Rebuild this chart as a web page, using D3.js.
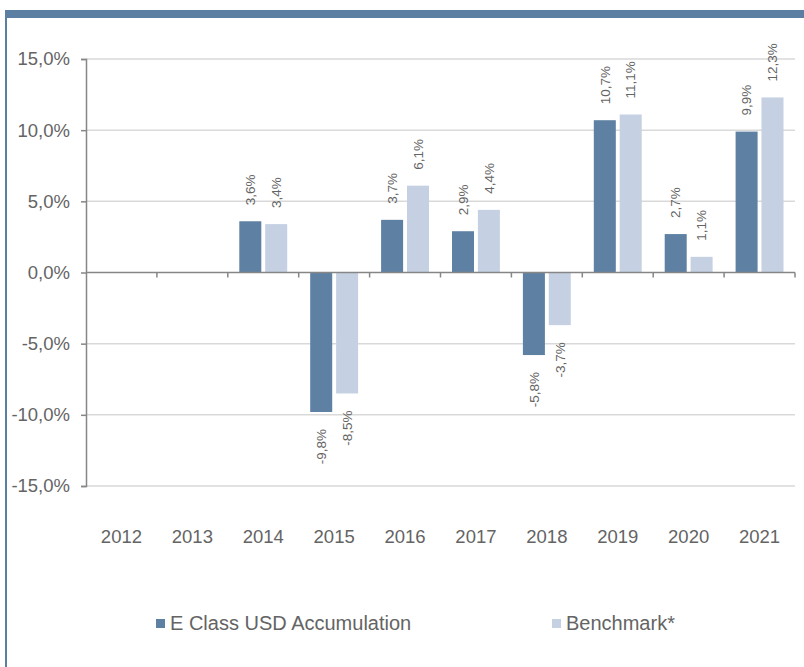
<!DOCTYPE html>
<html>
<head>
<meta charset="utf-8">
<script src="https://cdn.jsdelivr.net/npm/d3@7"></script>
<style>
  body { margin: 0; background: #fff; }
  text { font-family: "Liberation Sans", Arial, sans-serif; fill: #646464; }
</style>
</head>
<body>
<div id="chart"></div>
<script>
// data
var years = ["2012", "2013", "2014", "2015", "2016", "2017", "2018", "2019", "2020", "2021"];
var seriesNames = ["E Class USD Accumulation", "Benchmark*"];
var fund = [null, null, 3.6, -9.8, 3.7, 2.9, -5.8, 10.7, 2.7, 9.9];
var bench = [null, null, 3.4, -8.5, 6.1, 4.4, -3.7, 11.1, 1.1, 12.3];
var yTicks = [-15, -10, -5, 0, 5, 10, 15];

var colors = ["#5e81a3", "#c5d1e3"];
var W = 804, H = 667;

var svg = d3.select("#chart").append("svg")
    .attr("width", W)
    .attr("height", H);

// frame: top band + left line
svg.append("rect")
    .attr("x", 5).attr("y", 10)
    .attr("width", W - 5).attr("height", 8)
    .style("fill", "#5b7fa3");
svg.append("line")
    .attr("x1", 6).attr("x2", 6)
    .attr("y1", 10).attr("y2", H)
    .style("stroke", "#5b7fa3")
    .style("stroke-width", 2);

// scales
var x0 = d3.scaleBand()
    .domain(years)
    .range([86, 795])
    .padding(0);

var x1 = d3.scaleBand()
    .domain(seriesNames)
    .range([0, x0.bandwidth()])
    .paddingInner(0.15)
    .paddingOuter(0.444);

var y = d3.scaleLinear()
    .domain([-15, 15])
    .range([486, 59]);

var fmt = function(d) { return d.toFixed(1).replace(".", ",") + "%"; };

// gridlines
svg.append("g")
    .selectAll("line")
    .data(yTicks.filter(function(d) { return d != 0; }))
    .join("line")
    .attr("x1", 86).attr("x2", 795)
    .attr("y1", function(d) { return y(d); })
    .attr("y2", function(d) { return y(d); })
    .style("stroke", "#d9d9d9")
    .style("stroke-width", 1.5);

// y axis
var yAxis = d3.axisLeft(y)
    .tickValues(yTicks)
    .tickFormat(fmt)
    .tickSize(5)
    .tickPadding(11);

var gy = svg.append("g")
    .attr("transform", "translate(86,0)")
    .call(yAxis);
gy.select(".domain").style("stroke", "#868686").style("stroke-width", 1.5);
gy.selectAll(".tick line").style("stroke", "#868686").style("stroke-width", 1.5);
gy.selectAll(".tick text")
    .style("font-size", "18.5px")
    .style("font-family", '"Liberation Sans", Arial, sans-serif')
    .style("fill", "#646464");

// bars
var rows = years.map(function(yr, i) {
    return {year: yr, vals: [
        {key: seriesNames[0], v: fund[i], c: colors[0]},
        {key: seriesNames[1], v: bench[i], c: colors[1]}
    ]};
});

var groups = svg.append("g")
    .selectAll("g")
    .data(rows)
    .join("g")
    .attr("transform", function(d) { return "translate(" + x0(d.year) + ",0)"; });

var cells = groups.selectAll("g")
    .data(function(d) { return d.vals.filter(function(e) { return e.v !== null; }); })
    .join("g");

cells.append("rect")
    .attr("x", function(d) { return x1(d.key); })
    .attr("width", x1.bandwidth())
    .attr("y", function(d) { return y(Math.max(0, d.v)); })
    .attr("height", function(d) { return Math.abs(y(d.v) - y(0)); })
    .style("fill", function(d) { return d.c; });

// value labels, rotated
cells.append("text")
    .attr("transform", function(d) {
        var cx = x1(d.key) + x1.bandwidth() / 2;
        var cy = d.v >= 0 ? y(d.v) - 16 : y(d.v) + 17;
        return "translate(" + cx + "," + cy + ") rotate(-90)";
    })
    .attr("dy", "0.35em")
    .attr("text-anchor", function(d) { return d.v >= 0 ? "start" : "end"; })
    .style("font-size", "13.5px")
    .text(function(d) { return fmt(d.v); });

// x axis line at zero + boundary ticks
svg.append("line")
    .attr("x1", 86).attr("x2", 795)
    .attr("y1", y(0)).attr("y2", y(0))
    .style("stroke", "#868686")
    .style("stroke-width", 1.5);

var bounds = years.slice(1).map(function(yr) { return x0(yr); }).concat([x0.range()[1]]);
svg.append("g")
    .selectAll("line")
    .data(bounds)
    .join("line")
    .attr("x1", function(d) { return d; })
    .attr("x2", function(d) { return d; })
    .attr("y1", y(0)).attr("y2", y(0) + 5)
    .style("stroke", "#868686")
    .style("stroke-width", 1.5);

// year labels
svg.append("g")
    .selectAll("text")
    .data(years)
    .join("text")
    .attr("x", function(d) { return x0(d) + x0.bandwidth() / 2; })
    .attr("y", y(-15) + 57)
    .attr("text-anchor", "middle")
    .style("font-size", "18.5px")
    .text(function(d) { return d; });

// legend
var legendX = [156, 552];
var legend = svg.append("g")
    .selectAll("g")
    .data(seriesNames)
    .join("g")
    .attr("transform", function(d, i) { return "translate(" + legendX[i] + ",619)"; });

legend.append("rect")
    .attr("width", 9).attr("height", 9)
    .style("fill", function(d, i) { return colors[i]; });

legend.append("text")
    .attr("x", 14)
    .attr("y", 11)
    .style("font-size", "20px")
    .text(function(d) { return d; });
</script>
</body>
</html>
